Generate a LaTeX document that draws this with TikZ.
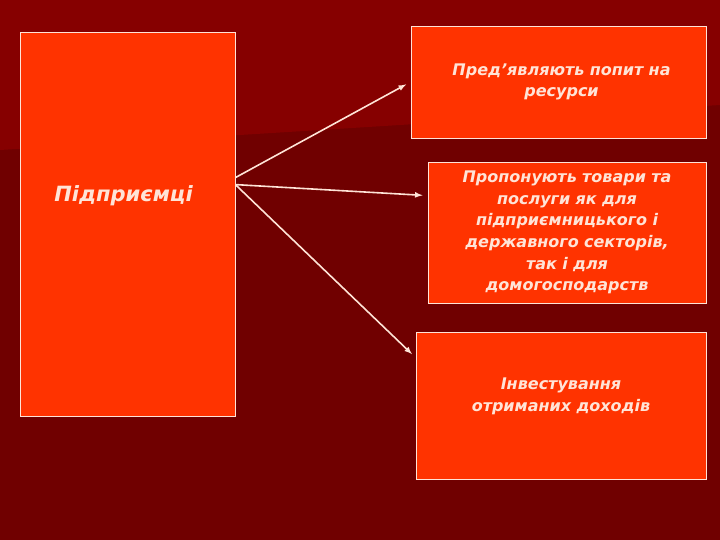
\documentclass[tikz,border=0pt]{standalone}
\usepackage{fontspec}
\setmainfont{DejaVu Sans}
\usepackage{xcolor}
\usepackage{tikz}

\definecolor{bgmain}{RGB}{112,0,0}
\definecolor{bgtop}{RGB}{134,0,0}
\definecolor{boxfill}{RGB}{255,51,0}
\definecolor{lineclr}{RGB}{255,228,215}

\begin{document}
\begin{tikzpicture}[x=1pt,y=-1pt,
                    box/.style={fill=boxfill,draw=lineclr,line width=0.8pt,inner sep=0pt,align=center,
                                text=lineclr,font=\fontsize{16}{21.6}\selectfont\bfseries\itshape},
                    link/.style={->,>=latex,draw=lineclr,line width=1.6pt,shorten >=5pt}]
                    \useasboundingbox (0,0) rectangle (720,540);
                    \fill[bgmain] (0,0) rectangle (720,540);
                    \fill[bgtop] (0,0) -- (720,0) -- (720,105) -- (0,150) -- cycle;

                    \node[box, font=\fontsize{21}{25}\selectfont\bfseries\itshape, minimum width=215pt, text width=207pt, text height=170pt, text depth=214pt, anchor=base] (firms) at (127.5,202) {Підприємці\hspace*{8pt}};
                    \node[box, minimum width=295pt, minimum height=112pt, text width=270pt] (demand) at (558.5,82) {\hspace*{6pt}Пред'являють попит на\\\hspace*{6pt}ресурси};
                    \node[box, minimum width=278pt, minimum height=141pt, text width=270pt] (supply) at (567,232.5) {Пропонують товари та\\послуги як для\\підприємницького і\\державного секторів,\\так і для\\домогосподарств};
                    \node[box, minimum width=290pt, minimum height=147pt, text width=270pt] (invest) at (561,405.5) {Інвестування\\отриманих доходів\\\mbox{}};

                    \draw[link] ([yshift=-146pt]firms.north east) -- (demand.west);
                    \draw[link] ([yshift=-153pt]firms.north east) -- ([yshift=-34pt]supply.north west);
                    \draw[link] ([yshift=-153pt]firms.north east) -- ([yshift=-26pt]invest.north west);
                 \end{tikzpicture}
\end{document}
